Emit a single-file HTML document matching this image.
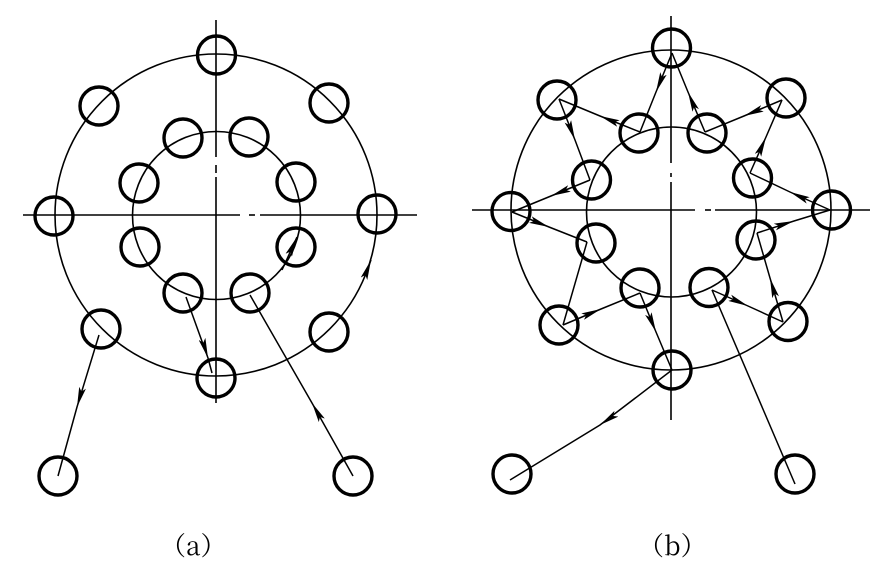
<!DOCTYPE html>
<html><head><meta charset="utf-8"><style>
html,body{margin:0;padding:0;background:#fff;}
svg{display:block}
</style></head><body>
<svg width="888" height="569" viewBox="0 0 888 569" xmlns="http://www.w3.org/2000/svg">
<defs>
<marker id="ar" viewBox="0 0 20 7" refX="20" refY="3.5" markerWidth="20" markerHeight="7" markerUnits="userSpaceOnUse" orient="auto">
<path d="M0,0 L20,3.5 L0,7 L4,3.5 Z" fill="#000"/>
</marker>
</defs>
<g fill="none" stroke="#000" stroke-width="1.6">
<line x1="216" y1="20" x2="216" y2="157"/><line x1="216" y1="165" x2="216" y2="173"/><line x1="216" y1="177" x2="216" y2="403"/>
<line x1="23" y1="215" x2="240" y2="215"/><line x1="249" y1="215" x2="255" y2="215"/><line x1="260" y1="215" x2="417" y2="215"/>
<circle cx="216" cy="215" r="161"/>
<circle cx="216.5" cy="215.5" r="84"/>
<line x1="671" y1="16" x2="671" y2="163"/><line x1="671" y1="173" x2="671" y2="177"/><line x1="671" y1="182" x2="671" y2="420"/>
<line x1="472" y1="210" x2="695" y2="210"/><line x1="705" y1="210" x2="711" y2="210"/><line x1="715" y1="210" x2="870" y2="210"/>
<circle cx="671" cy="210" r="160"/>
<circle cx="671.5" cy="212" r="85"/>
</g>
<g fill="none" stroke="#000" stroke-width="3.4">
<circle cx="216.5" cy="55" r="19"/><circle cx="216" cy="378" r="19"/><circle cx="54" cy="216" r="19"/><circle cx="377" cy="214" r="19"/>
<circle cx="99" cy="106" r="19"/><circle cx="329" cy="103" r="19"/><circle cx="329" cy="332" r="19"/><circle cx="101" cy="329" r="19"/>
<circle cx="183" cy="138" r="19"/><circle cx="249" cy="137" r="19"/><circle cx="296" cy="182" r="19"/><circle cx="296" cy="247" r="19"/>
<circle cx="250" cy="293" r="19"/><circle cx="183" cy="293" r="19"/><circle cx="140" cy="247" r="19"/><circle cx="139" cy="183" r="19"/>
<circle cx="58" cy="476" r="19"/><circle cx="353" cy="476" r="19"/>
<circle cx="671.5" cy="48" r="19"/><circle cx="672" cy="370" r="19"/><circle cx="511" cy="211.5" r="19"/><circle cx="831.5" cy="210" r="19"/>
<circle cx="557" cy="100" r="19"/><circle cx="786" cy="98" r="19"/><circle cx="788" cy="321.5" r="19"/><circle cx="559" cy="325" r="19"/>
<circle cx="639" cy="133" r="19"/><circle cx="707" cy="133" r="19"/><circle cx="752.5" cy="178" r="19"/><circle cx="756" cy="240" r="19"/>
<circle cx="709" cy="287.5" r="19"/><circle cx="640" cy="288" r="19"/><circle cx="596" cy="243" r="19"/><circle cx="591.5" cy="180" r="19"/>
<circle cx="512" cy="474" r="19"/><circle cx="795" cy="474" r="19"/>
</g>
<g fill="none" stroke="#000" stroke-width="1.5">
<polyline points="99,335 77,407 58,476" marker-mid="url(#ar)"/>
<polyline points="353,476 312,403 250,295" marker-mid="url(#ar)"/>
<polyline points="186,297 208,358 212,373" marker-mid="url(#ar)"/>
<polyline points="282,270 297,237" marker-end="url(#ar)"/>
<polyline points="365,276 371,260" marker-end="url(#ar)"/>
<polyline points="705,132 688,92 672,53" marker-mid="url(#ar)"/>
<polyline points="672,53 656,92 640,132" marker-mid="url(#ar)"/>
<polyline points="640,132 600,116 559,99" marker-mid="url(#ar)"/>
<polyline points="559,99 575,140 590,180" marker-mid="url(#ar)"/>
<polyline points="590,180 551,196 512,212" marker-mid="url(#ar)"/>
<polyline points="512,212 549,227 587,242" marker-mid="url(#ar)"/>
<line x1="587" y1="242" x2="563" y2="325"/>
<polyline points="563,325 601,309 640,293" marker-mid="url(#ar)"/>
<polyline points="640,293 656,332 672,370" marker-mid="url(#ar)"/>
<polyline points="672,370 600,425 510,480" marker-mid="url(#ar)"/>
<line x1="795" y1="484" x2="712" y2="290"/>
<polyline points="712,290 748,306 783,322" marker-mid="url(#ar)"/>
<polyline points="783,322 770,278 757,233" marker-mid="url(#ar)"/>
<polyline points="757,233 794,221 830,210" marker-mid="url(#ar)"/>
<polyline points="830,210 790,192 750,173" marker-mid="url(#ar)"/>
<polyline points="750,173 766,137 782,100" marker-mid="url(#ar)"/>
<polyline points="782,100 744,116 705,132" marker-mid="url(#ar)"/>
</g>
<g font-family="'Noto Serif CJK SC','Liberation Serif',serif" font-size="26" fill="#000">
<text x="160" y="555">（a）</text>
<text x="638" y="555">（b）</text>
</g>
</svg>
</body></html>
